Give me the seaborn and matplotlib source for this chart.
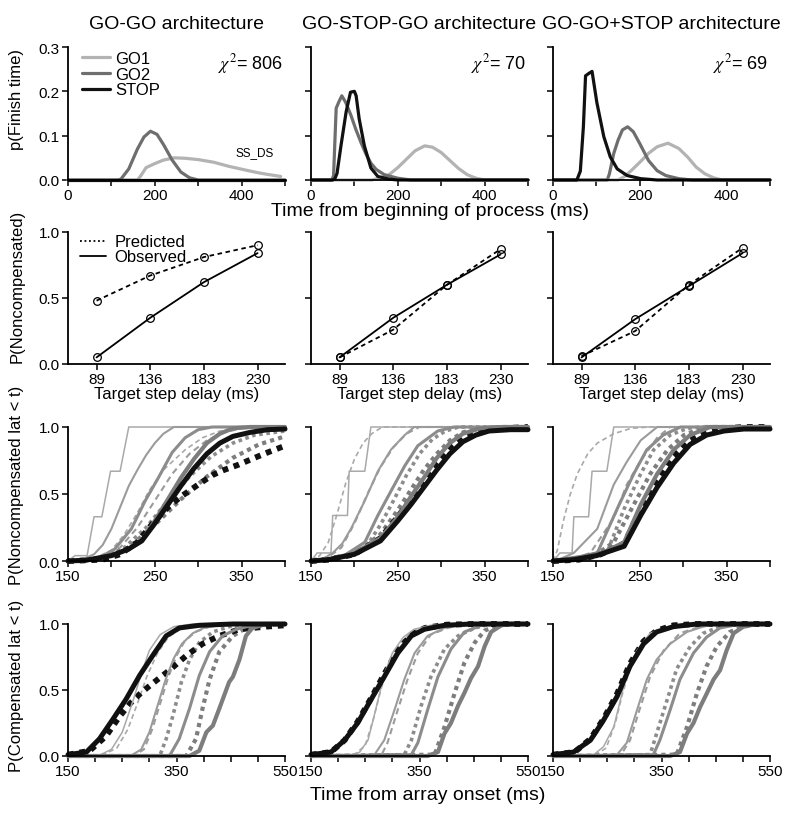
import matplotlib
matplotlib.use('Agg')
import matplotlib.pyplot as plt
from matplotlib.lines import Line2D
import seaborn as sns

# ---------------- data ----------------
titles = ['GO-GO architecture', 'GO-STOP-GO architecture', 'GO-GO+STOP architecture']
chi2 = [806, 70, 69]

# row 1: finishing-time densities (time ms, p)
go1_gogo = [(0, 0), (160, 0), (168, 0.01), (180, 0.028), (200, 0.037), (220, 0.045), (245, 0.05), (270, 0.049),
            (300, 0.046), (336, 0.04), (370, 0.031), (411, 0.022), (440, 0.016), (464, 0.012), (490, 0.008)]
go2_gogo = [(0, 0), (115, 0), (122, 0.002), (140, 0.025), (160, 0.07), (175, 0.097), (190, 0.11), (205, 0.103),
            (220, 0.08), (240, 0.045), (260, 0.018), (280, 0.005), (300, 0), (500, 0)]
stop_gogo = [(0, 0), (500, 0)]
go1_gsg = [(0, 0), (140, 0), (160, 0.005), (180, 0.012), (200, 0.028), (220, 0.047), (240, 0.066), (262, 0.077),
           (280, 0.074), (300, 0.062), (320, 0.044), (340, 0.026), (360, 0.012), (380, 0.004), (400, 0), (500, 0)]
go2_gsg = [(0, 0), (48, 0), (52, 0.01), (58, 0.162), (65, 0.178), (71, 0.19), (80, 0.175), (92, 0.146),
           (103, 0.115), (115, 0.085), (126, 0.06), (138, 0.038), (150, 0.024), (169, 0.012), (200, 0.004),
           (230, 0), (500, 0)]
stop_gsg = [(0, 0), (50, 0), (55, 0.003), (60, 0.015), (69, 0.077), (81, 0.154), (91, 0.198), (100, 0.2),
            (104, 0.19), (111, 0.138), (123, 0.077), (138, 0.027), (154, 0.008), (180, 0.002), (200, 0), (500, 0)]
go1_ggs = [(0, 0), (150, 0), (165, 0.008), (180, 0.021), (200, 0.04), (220, 0.06), (240, 0.075), (265, 0.083),
           (290, 0.071), (310, 0.052), (330, 0.029), (350, 0.014), (370, 0.005), (390, 0), (500, 0)]
go2_ggs = [(0, 0), (125, 0), (130, 0.014), (140, 0.06), (150, 0.09), (160, 0.113), (172, 0.12), (185, 0.109),
           (200, 0.082), (220, 0.044), (240, 0.021), (260, 0.01), (290, 0.003), (320, 0), (500, 0)]
stop_ggs = [(0, 0), (55, 0), (63, 0.02), (70, 0.12), (75, 0.235), (82, 0.24), (90, 0.245), (101, 0.175),
            (117, 0.098), (132, 0.052), (148, 0.025), (171, 0.01), (202, 0.003), (240, 0), (500, 0)]

# row 2: P(noncompensated) vs target step delay
delays = [89, 136, 183, 230]
pnc_obs_gogo = [0.05, 0.35, 0.62, 0.84]
pnc_pred_gogo = [0.48, 0.67, 0.81, 0.90]
pnc_obs_gsg = [0.05, 0.35, 0.60, 0.83]
pnc_pred_gsg = [0.05, 0.26, 0.60, 0.87]
pnc_obs_ggs = [0.05, 0.34, 0.59, 0.84]
pnc_pred_ggs = [0.06, 0.25, 0.60, 0.88]

# row 3: noncompensated latency CDFs, order = SSD 89, 136, 183, 230, no-step
nc_obs_gogo = [
    [(150, 0), (158, 0.04), (172, 0.04), (180, 0.33), (189, 0.33), (199, 0.67), (210, 0.67), (220, 1.0), (400, 1.0)],
    [(150, 0), (165, 0.01), (180, 0.05), (190, 0.12), (200, 0.24), (210, 0.4), (220, 0.56), (230, 0.68), (240, 0.79),
     (250, 0.88), (260, 0.95), (272, 1.0), (400, 1.0)],
    [(150, 0), (185, 0.02), (204, 0.09), (223, 0.24), (239, 0.45), (254, 0.62), (270, 0.81), (285, 0.92),
     (300, 0.98), (316, 1.0), (400, 1.0)],
    [(150, 0), (170, 0.005), (200, 0.04), (220, 0.09), (235, 0.15), (250, 0.3), (265, 0.46), (280, 0.62),
     (295, 0.76), (310, 0.88), (325, 0.95), (340, 0.99), (360, 1.0), (400, 1.0)],
    [(150, 0), (170, 0.005), (200, 0.04), (220, 0.09), (235, 0.15), (250, 0.28), (265, 0.42), (280, 0.56),
     (295, 0.69), (310, 0.8), (325, 0.88), (340, 0.93), (360, 0.96), (380, 0.98), (400, 0.985)],
]
nc_pred_gogo = [
    [(150, 0), (180, 0.02), (200, 0.08), (215, 0.2), (230, 0.36), (243, 0.52), (260, 0.68), (285, 0.83),
     (305, 0.92), (325, 0.97), (350, 1.0), (400, 1.0)],
    [(150, 0), (185, 0.02), (210, 0.1), (230, 0.25), (250, 0.45), (270, 0.65), (290, 0.8), (310, 0.9), (330, 0.96),
     (350, 0.99), (380, 1.0), (400, 1.0)],
    [(150, 0), (190, 0.02), (215, 0.1), (240, 0.25), (265, 0.45), (290, 0.63), (315, 0.78), (340, 0.88),
     (365, 0.94), (400, 0.97)],
    [(150, 0), (190, 0.02), (220, 0.1), (250, 0.27), (280, 0.46), (310, 0.63), (340, 0.77), (370, 0.87), (400, 0.93)],
    [(150, 0), (190, 0.01), (210, 0.05), (230, 0.14), (250, 0.3), (265, 0.4), (280, 0.48), (300, 0.57), (316, 0.64),
     (330, 0.68), (347, 0.72), (365, 0.77), (380, 0.81), (400, 0.86)],
]
nc_obs_gsg = [
    [(150, 0), (157, 0.06), (173, 0.06), (175, 0.34), (192, 0.34), (194, 0.67), (212, 0.67), (219, 1.0), (400, 1.0)],
    [(150, 0), (165, 0.02), (175, 0.06), (186, 0.13), (196, 0.24), (212, 0.45), (227, 0.67), (242, 0.83),
     (258, 0.94), (269, 1.0), (400, 1.0)],
    [(150, 0), (170, 0.01), (188, 0.04), (212, 0.14), (227, 0.34), (242, 0.52), (258, 0.71), (273, 0.86),
     (296, 0.97), (315, 1.0), (400, 1.0)],
    [(150, 0), (170, 0.01), (200, 0.06), (230, 0.17), (250, 0.33), (265, 0.48), (280, 0.62), (295, 0.77),
     (310, 0.88), (325, 0.95), (345, 0.99), (370, 1.0), (400, 1.0)],
    [(150, 0), (170, 0.01), (200, 0.05), (230, 0.15), (250, 0.3), (265, 0.42), (280, 0.55), (295, 0.68), (310, 0.8),
     (325, 0.89), (340, 0.94), (355, 0.97), (380, 0.98), (400, 0.98)],
]
nc_pred_gsg = [
    [(150, 0), (160, 0.04), (170, 0.14), (180, 0.35), (190, 0.58), (200, 0.76), (210, 0.88), (220, 0.95),
     (232, 1.0), (400, 1.0)],
    [(150, 0), (170, 0.03), (185, 0.1), (200, 0.28), (215, 0.5), (230, 0.7), (245, 0.85), (260, 0.95), (275, 1.0),
     (400, 1.0)],
    [(150, 0), (180, 0.02), (200, 0.05), (215, 0.12), (230, 0.27), (245, 0.45), (260, 0.64), (275, 0.8), (290, 0.91),
     (305, 0.97), (320, 1.0), (400, 1.0)],
    [(150, 0), (170, 0.01), (200, 0.05), (230, 0.2), (250, 0.38), (265, 0.53), (280, 0.68), (295, 0.8), (310, 0.9),
     (325, 0.96), (345, 0.99), (370, 1.0), (400, 1.0)],
    [(150, 0), (170, 0.01), (200, 0.05), (230, 0.17), (250, 0.33), (265, 0.46), (280, 0.6), (295, 0.73),
     (310, 0.84), (325, 0.92), (345, 0.97), (370, 0.99), (400, 1.0)],
]
nc_obs_ggs = [
    [(150, 0), (158, 0.06), (172, 0.06), (174, 0.33), (191, 0.33), (195, 0.67), (212, 0.67), (220, 1.0), (400, 1.0)],
    [(150, 0), (160, 0.02), (174, 0.06), (201, 0.24), (220, 0.57), (235, 0.74), (251, 0.9), (270, 1.0), (400, 1.0)],
    [(150, 0), (180, 0.02), (201, 0.06), (224, 0.39), (243, 0.65), (258, 0.83), (277, 0.94), (297, 1.0), (400, 1.0)],
    [(150, 0), (182, 0.03), (210, 0.07), (232, 0.14), (251, 0.42), (270, 0.65), (289, 0.83), (308, 0.94),
     (331, 1.0), (400, 1.0)],
    [(150, 0), (174, 0.01), (200, 0.04), (232, 0.11), (251, 0.34), (270, 0.55), (289, 0.73), (308, 0.87),
     (327, 0.94), (347, 0.97), (370, 0.985), (400, 0.985)],
]
nc_pred_ggs = [
    [(150, 0), (155, 0.08), (162, 0.3), (170, 0.5), (178, 0.65), (190, 0.8), (201, 0.88), (220, 0.95), (240, 0.99),
     (260, 1.0), (400, 1.0)],
    [(150, 0), (175, 0.02), (193, 0.06), (220, 0.32), (235, 0.57), (251, 0.75), (270, 0.92), (285, 1.0), (400, 1.0)],
    [(150, 0), (190, 0.02), (212, 0.06), (232, 0.39), (251, 0.65), (266, 0.83), (285, 0.94), (305, 0.99),
     (320, 1.0), (400, 1.0)],
    [(150, 0), (185, 0.02), (200, 0.05), (220, 0.14), (243, 0.42), (262, 0.65), (282, 0.83), (301, 0.94),
     (324, 1.0), (400, 1.0)],
    [(150, 0), (180, 0.01), (205, 0.05), (232, 0.13), (251, 0.38), (270, 0.6), (289, 0.78), (308, 0.9), (327, 0.96),
     (347, 0.99), (370, 1.0), (400, 1.0)],
]

# row 4: compensated latency CDFs, order = SSD 89, 136, 183, 230, no-step
c_obs_gogo = [
    [(150, 0), (210, 0.01), (230, 0.05), (250, 0.18), (270, 0.42), (285, 0.62), (300, 0.8), (320, 0.92),
     (345, 0.98), (380, 1.0), (550, 1.0)],
    [(150, 0), (265, 0), (285, 0.05), (300, 0.18), (315, 0.38), (330, 0.58), (345, 0.74), (360, 0.85), (380, 0.93),
     (400, 0.97), (430, 0.99), (470, 1.0), (550, 1.0)],
    [(150, 0), (337, 0), (355, 0.13), (374, 0.36), (392, 0.61), (411, 0.79), (435, 0.91), (460, 0.96), (490, 0.99),
     (520, 1.0), (550, 1.0)],
    [(150, 0), (374, 0), (392, 0.04), (405, 0.18), (417, 0.23), (429, 0.36), (447, 0.56), (454, 0.6), (466, 0.73),
     (478, 0.91), (490, 0.97), (515, 1.0), (550, 1.0)],
    [(150, 0.01), (184, 0.03), (208, 0.13), (233, 0.28), (257, 0.43), (282, 0.61), (306, 0.76), (331, 0.91),
     (355, 0.97), (392, 0.99), (454, 1.0), (550, 1.0)],
]
c_pred_gogo = [
    [(150, 0), (215, 0.01), (240, 0.06), (260, 0.2), (280, 0.42), (295, 0.6), (315, 0.78), (335, 0.9), (360, 0.97),
     (400, 1.0), (550, 1.0)],
    [(150, 0), (270, 0), (290, 0.05), (305, 0.2), (320, 0.4), (335, 0.6), (350, 0.76), (365, 0.87), (385, 0.94),
     (410, 0.98), (450, 1.0), (550, 1.0)],
    [(150, 0), (319, 0), (331, 0.13), (343, 0.3), (359, 0.56), (374, 0.73), (392, 0.86), (417, 0.94), (447, 0.98),
     (480, 1.0), (550, 1.0)],
    [(150, 0), (368, 0), (386, 0.13), (398, 0.36), (411, 0.58), (429, 0.79), (454, 0.91), (478, 0.97), (509, 0.99),
     (550, 1.0)],
    [(150, 0.01), (190, 0.04), (220, 0.15), (245, 0.3), (265, 0.4), (285, 0.48), (306, 0.55), (337, 0.65),
     (368, 0.76), (398, 0.85), (429, 0.91), (466, 0.96), (515, 0.98), (550, 0.99)],
]
c_obs_gsg = [
    [(150, 0), (220, 0), (240, 0.03), (255, 0.12), (265, 0.28), (275, 0.45), (285, 0.62), (300, 0.78), (320, 0.9),
     (340, 0.96), (370, 0.99), (420, 1.0), (550, 1.0)],
    [(150, 0), (267, 0.01), (285, 0.12), (304, 0.35), (322, 0.58), (341, 0.78), (365, 0.91), (396, 0.97),
     (433, 1.0), (550, 1.0)],
    [(150, 0), (335, 0.01), (347, 0.1), (365, 0.35), (384, 0.6), (408, 0.81), (433, 0.94), (464, 0.99), (495, 1.0),
     (550, 1.0)],
    [(150, 0), (365, 0), (384, 0.03), (396, 0.17), (408, 0.25), (421, 0.38), (433, 0.48), (445, 0.59), (458, 0.68),
     (470, 0.83), (482, 0.94), (501, 0.99), (519, 1.0), (550, 1.0)],
    [(150, 0.01), (187, 0.03), (212, 0.12), (236, 0.25), (261, 0.43), (285, 0.6), (310, 0.78), (335, 0.91),
     (359, 0.96), (396, 0.99), (445, 1.0), (550, 1.0)],
]
c_pred_gsg = [
    [(150, 0), (230, 0.01), (250, 0.08), (265, 0.28), (280, 0.52), (295, 0.7), (315, 0.86), (335, 0.94),
     (360, 0.98), (400, 1.0), (550, 1.0)],
    [(150, 0), (279, 0), (291, 0.1), (310, 0.35), (328, 0.58), (347, 0.78), (371, 0.92), (402, 0.97), (433, 1.0),
     (550, 1.0)],
    [(150, 0), (322, 0.01), (335, 0.12), (353, 0.38), (371, 0.6), (396, 0.81), (421, 0.91), (452, 0.97), (482, 1.0),
     (550, 1.0)],
    [(150, 0), (378, 0.01), (396, 0.22), (415, 0.48), (433, 0.71), (452, 0.86), (470, 0.95), (495, 0.99),
     (520, 1.0), (550, 1.0)],
    [(150, 0.01), (187, 0.03), (212, 0.12), (236, 0.26), (261, 0.44), (285, 0.62), (310, 0.8), (335, 0.92),
     (360, 0.97), (400, 0.995), (450, 1.0), (550, 1.0)],
]
c_obs_ggs = [
    [(150, 0), (225, 0.01), (243, 0.07), (262, 0.22), (274, 0.42), (286, 0.63), (305, 0.8), (329, 0.93),
     (366, 0.98), (400, 1.0), (550, 1.0)],
    [(150, 0), (268, 0.01), (286, 0.1), (305, 0.35), (323, 0.58), (341, 0.73), (366, 0.85), (397, 0.94),
     (427, 0.98), (452, 1.0), (550, 1.0)],
    [(150, 0), (335, 0.01), (347, 0.12), (366, 0.35), (384, 0.58), (409, 0.78), (433, 0.9), (458, 0.97),
     (483, 0.99), (510, 1.0), (550, 1.0)],
    [(150, 0), (366, 0), (384, 0.03), (397, 0.17), (409, 0.25), (421, 0.37), (433, 0.47), (446, 0.58), (458, 0.65),
     (470, 0.8), (483, 0.93), (501, 0.98), (526, 1.0), (550, 1.0)],
    [(150, 0.01), (188, 0.03), (219, 0.12), (243, 0.27), (268, 0.45), (292, 0.68), (317, 0.85), (341, 0.94),
     (372, 0.98), (415, 1.0), (550, 1.0)],
]
c_pred_ggs = [
    [(150, 0), (228, 0.01), (248, 0.06), (265, 0.25), (278, 0.47), (292, 0.66), (310, 0.82), (335, 0.94),
     (370, 0.99), (400, 1.0), (550, 1.0)],
    [(150, 0), (274, 0), (292, 0.12), (311, 0.37), (329, 0.6), (354, 0.8), (384, 0.93), (421, 0.98), (450, 1.0),
     (550, 1.0)],
    [(150, 0), (329, 0.01), (341, 0.17), (360, 0.42), (378, 0.66), (403, 0.83), (427, 0.93), (458, 0.98),
     (489, 1.0), (550, 1.0)],
    [(150, 0), (378, 0.01), (397, 0.22), (415, 0.47), (433, 0.68), (452, 0.83), (476, 0.94), (501, 0.98),
     (530, 1.0), (550, 1.0)],
    [(150, 0.01), (190, 0.03), (219, 0.13), (243, 0.28), (268, 0.47), (292, 0.7), (317, 0.87), (341, 0.95),
     (372, 0.99), (415, 1.0), (550, 1.0)],
]

# ---------------- styling ----------------
sns.set_theme(style='ticks')
plt.rcParams['font.family'] = ['Liberation Sans', 'DejaVu Sans']
plt.rcParams['mathtext.fontset'] = 'stix'
plt.rcParams['axes.linewidth'] = 1.3
plt.rcParams['axes.edgecolor'] = 'black'
plt.rcParams['xtick.color'] = 'black'
plt.rcParams['ytick.color'] = 'black'
plt.rcParams['text.color'] = 'black'
plt.rcParams['axes.labelcolor'] = 'black'

proc_colors = {'GO1': '#b3b3b3', 'GO2': '#6e6e6e', 'STOP': '#111111'}
# per condition: colour, observed width, predicted width, predicted linestyle
cond_style = [
    ('#a9a9a9', 1.1, 1.2, (0, (3, 2))),
    ('#9b9b9b', 1.5, 1.5, (0, (3, 2))),
    ('#8c8c8c', 2.2, 2.6, (0, (1, 1))),
    ('#7d7d7d', 3.0, 3.0, (0, (1, 1))),
    ('#111111', 3.6, 4.2, (0, (1, 1))),
]

W, H = 800, 820
fig = plt.figure(figsize=(W / 100, H / 100), dpi=100)
col_left = [68, 311, 553]
row_tb = [(48, 181), (233, 365), (428, 562), (625, 757)]
AW = 217


def make_ax(r, c):
    top, bot = row_tb[r]
    ax = fig.add_axes([col_left[c] / W, 1 - bot / H, AW / W, (bot - top) / H])
    sns.despine(ax=ax)
    ax.tick_params(direction='out', length=4, width=1.1, labelsize=11, pad=2)
    return ax


def draw(ax, pts, color, lw, ls='-', label=None, **kw):
    xs = [p[0] for p in pts]
    ys = [p[1] for p in pts]
    sns.lineplot(x=xs, y=ys, ax=ax, color=color, linewidth=lw, linestyle=ls, estimator=None,
                 sort=False, label=label, clip_on=False, **kw)


dens = [(go1_gogo, go2_gogo, stop_gogo), (go1_gsg, go2_gsg, stop_gsg), (go1_ggs, go2_ggs, stop_ggs)]
pnc = [(pnc_obs_gogo, pnc_pred_gogo), (pnc_obs_gsg, pnc_pred_gsg), (pnc_obs_ggs, pnc_pred_ggs)]
ncs = [(nc_obs_gogo, nc_pred_gogo), (nc_obs_gsg, nc_pred_gsg), (nc_obs_ggs, nc_pred_ggs)]
cs = [(c_obs_gogo, c_pred_gogo), (c_obs_gsg, c_pred_gsg), (c_obs_ggs, c_pred_ggs)]

for c in range(3):
    # row 1: densities
    ax = make_ax(0, c)
    g1, g2, st = dens[c]
    draw(ax, g1, proc_colors['GO1'], 2.3, label='GO1')
    draw(ax, g2, proc_colors['GO2'], 2.3, label='GO2')
    draw(ax, st, proc_colors['STOP'], 2.3, label='STOP')
    ax.set_xlim(0, 500)
    ax.set_ylim(0, 0.3)
    ax.set_xticks([0, 100, 200, 300, 400, 500])
    ax.set_xticklabels(['0', '', '200', '', '400', ''])
    ax.set_yticks([0, 0.1, 0.2, 0.3])
    ax.text(0.99, 0.97, r'$\chi^2$' + f'= {chi2[c]}', transform=ax.transAxes, ha='right', va='top', fontsize=13)
    ax.set_title(titles[c], fontsize=14, pad=14)
    if c == 0:
        ax.set_yticklabels(['0.0', '0.1', '0.2', '0.3'])
        ax.legend(loc='upper left', bbox_to_anchor=(0.01, 1.06), frameon=False, fontsize=12,
                  handlelength=1.7, handletextpad=0.3, labelspacing=0.05, borderpad=0.2)
        ax.text(431, 0.05, 'SS_DS', fontsize=8.5, ha='center', va='bottom')
    else:
        ax.set_yticklabels([])
        ax.get_legend().remove()

    # row 2: P(noncompensated)
    ax = make_ax(1, c)
    obs, pred = pnc[c]
    mk = dict(marker='o', markersize=5.5, markerfacecolor='none', markeredgecolor='black', markeredgewidth=0.9)
    draw(ax, list(zip(delays, pred)), 'black', 1.3, (0, (2.5, 2)), **mk)
    draw(ax, list(zip(delays, obs)), 'black', 1.3, '-', **mk)
    ax.set_xlim(64, 254)
    ax.set_ylim(0, 1)
    ax.set_xticks(delays)
    ax.set_yticks([0, 0.5, 1.0])
    ax.set_xlabel('Target step delay (ms)', fontsize=12, labelpad=0)
    if c == 0:
        ax.set_yticklabels(['0.0', '0.5', '1.0'])
        handles = [Line2D([], [], color='black', lw=1.3, linestyle=(0, (1, 1.5))),
                   Line2D([], [], color='black', lw=1.3)]
        ax.legend(handles, ['Predicted', 'Observed'], loc='upper left', bbox_to_anchor=(0.0, 1.07),
                  frameon=False, fontsize=12, handlelength=1.6, handletextpad=0.5, labelspacing=0.0,
                  borderpad=0.2)
    else:
        ax.set_yticklabels([])

    # rows 3 and 4: latency CDFs
    for r, (obs_set, pred_set), xmax in [(2, ncs[c], 400), (3, cs[c], 550)]:
        ax = make_ax(r, c)
        for k in range(5):
            col, lw_o, lw_p, ls_p = cond_style[k]
            draw(ax, pred_set[k], col, lw_p, ls_p)
        for k in range(5):
            col, lw_o, lw_p, ls_p = cond_style[k]
            draw(ax, obs_set[k], col, lw_o, '-')
        ax.set_xlim(150, xmax)
        ax.set_ylim(0, 1)
        ax.set_yticks([0, 0.5, 1.0])
        ticks = list(range(150, xmax + 1, 50))
        ax.set_xticks(ticks)
        if r == 2:
            ax.set_xticklabels([str(t) if t in (150, 250, 350) else '' for t in ticks])
        else:
            ax.set_xticklabels([str(t) if t in (150, 350, 550) else '' for t in ticks])
        if c == 0:
            ax.set_yticklabels(['0.0', '0.5', '1.0'])
        else:
            ax.set_yticklabels([])

# shared x labels
fig.text(430 / W, 1 - 212 / H, 'Time from beginning of process (ms)', ha='center', va='center', fontsize=14)
fig.text(428 / W, 1 - 796 / H, 'Time from array onset (ms)', ha='center', va='center', fontsize=14)

# y labels placed at figure level
ylabels = ['p(Finish time)', 'P(Noncompensated)', 'P(Noncompensated lat < t)', 'P(Compensated lat < t)']
ylab_y = [100, 286, 485, 686]
for yc, lab in zip(ylab_y, ylabels):
    fig.text(17 / W, 1 - yc / H, lab, rotation=90, ha='center', va='center', fontsize=12)

fig.savefig('out.png', dpi=100)
